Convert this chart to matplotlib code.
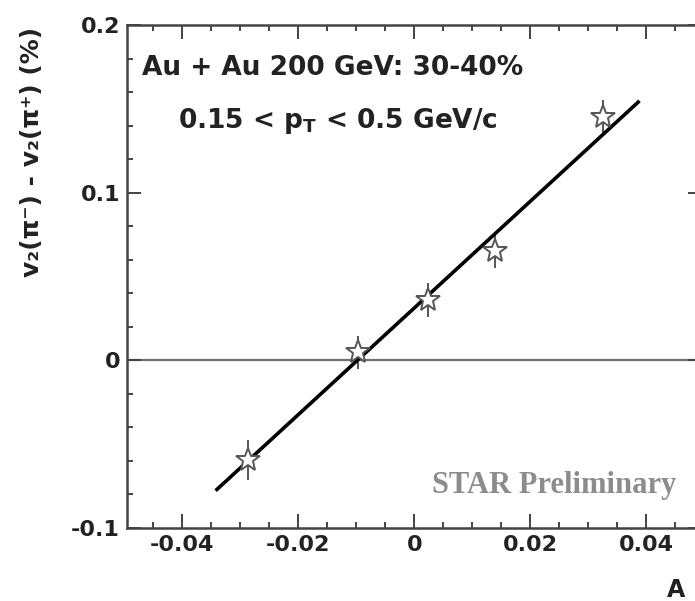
import numpy as np
import matplotlib.pyplot as plt
from matplotlib.ticker import MultipleLocator

# data
a_ch = [-0.0286, -0.0097, 0.0024, 0.0140, 0.0326]
dv2 = [-0.0595, 0.0048, 0.0360, 0.0650, 0.1450]
dv2_err = [0.012, 0.010, 0.010, 0.010, 0.010]
fit_x = [-0.034, 0.0386]
fit_y = [-0.077, 0.154]

plt.rcParams['mathtext.default'] = 'bf'

W, H = 695, 601
fig = plt.figure(figsize=(W / 100, H / 100), dpi=100)
ax = fig.add_axes([127 / W, 73 / H, 575 / W, 503 / H])

ax.axhline(0, color='#707070', linewidth=1.6, zorder=1)
ax.plot(fit_x, fit_y, color='black', linewidth=2.6, zorder=3)
ax.errorbar(a_ch, dv2, yerr=dv2_err, fmt='none', ecolor='#555555',
            elinewidth=1.4, capsize=0, zorder=2)
ax.plot(a_ch, dv2, linestyle='none', marker='*', markersize=18,
        markerfacecolor='white', markeredgecolor='#555555',
        markeredgewidth=1.4, zorder=4)

ax.set_xlim(-0.0495, 0.0496)
ax.set_ylim(-0.1, 0.2)

ax.xaxis.set_major_locator(MultipleLocator(0.02))
ax.xaxis.set_minor_locator(MultipleLocator(0.005))
ax.yaxis.set_major_locator(MultipleLocator(0.1))
ax.yaxis.set_minor_locator(MultipleLocator(0.02))
ax.xaxis.set_major_formatter(plt.FuncFormatter(lambda v, p: f'{v:g}'))
ax.yaxis.set_major_formatter(plt.FuncFormatter(lambda v, p: f'{v:g}'))

ax.tick_params(which='both', direction='in', top=True, right=True,
               color='#444444', width=1.4)
ax.tick_params(which='major', length=10, labelsize=16, pad=5, labelcolor='#222222')
ax.tick_params(which='minor', length=4.5)
for lab in ax.get_xticklabels() + ax.get_yticklabels():
    lab.set_fontweight('bold')

for sp in ax.spines.values():
    sp.set_linewidth(1.8)
    sp.set_color('#444444')

ax.text(0.026, 0.915, 'Au + Au 200 GeV: 30-40%', transform=ax.transAxes,
        fontsize=19, fontweight='bold', color='#222222', va='center', ha='left')
ax.text(0.088, 0.81, r'0.15 < p$_{T}$ < 0.5 GeV/c', transform=ax.transAxes,
        fontsize=19, fontweight='bold', color='#222222', va='center', ha='left')
ax.text(0.955, 0.085, 'STAR Preliminary', transform=ax.transAxes,
        fontsize=22, fontweight='bold', family='Liberation Serif',
        color='#8c8c8c', va='center', ha='right')

fig.text(32 / W, 1 - 152 / H, 'v₂(π⁻) - v₂(π⁺) (%)', rotation=90,
         fontsize=18, fontweight='bold', color='#222222', ha='center', va='center')
fig.text(667 / W, 1 - 590 / H, 'A', fontsize=17, fontweight='bold',
         color='#222222', ha='left', va='center')

fig.savefig('out.png', dpi=100, facecolor='white')
